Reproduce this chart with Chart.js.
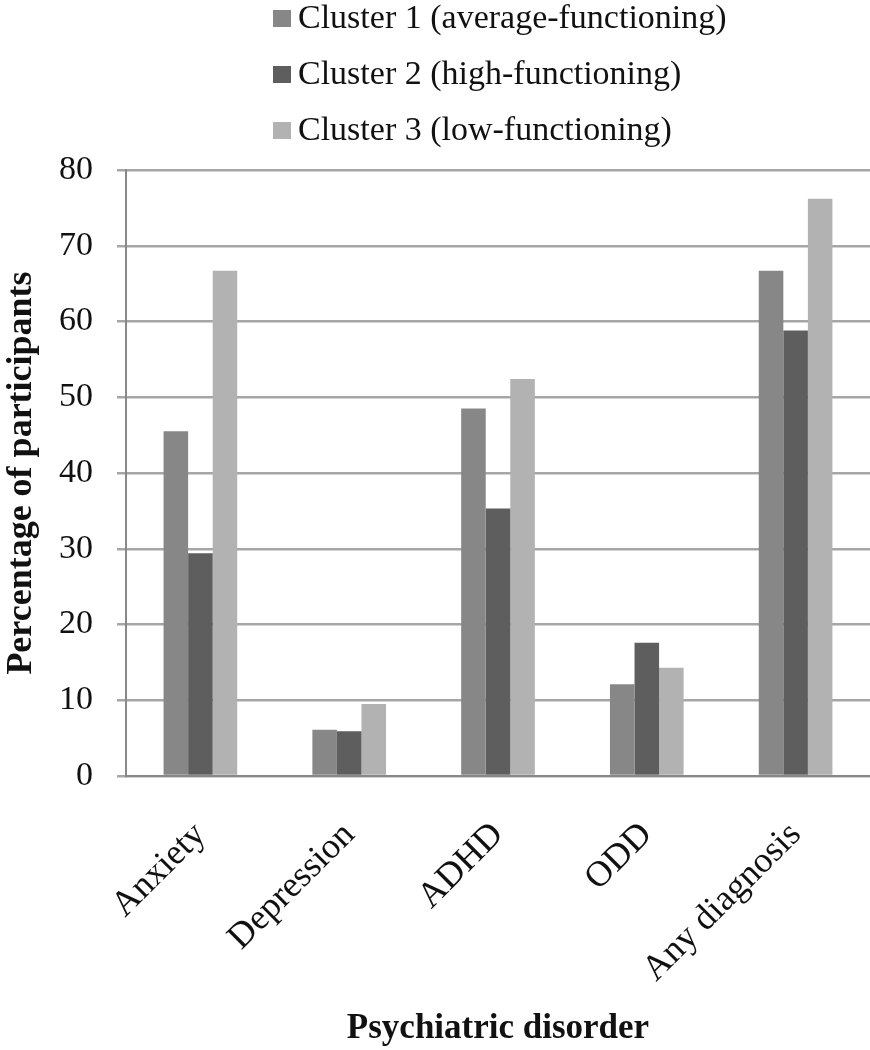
<!DOCTYPE html>
<html>
<head>
<meta charset="utf-8">
<script src="https://cdn.jsdelivr.net/npm/chart.js@4"></script>
<style>
  html, body { margin: 0; padding: 0; background: #fff; overflow: hidden; }
  #wrap { position: relative; width: 870px; height: 1050px; }
  #legend { position: absolute; left: 273px; top: -11px; font-family: "Liberation Serif", serif; font-size: 34px; color: #111; }
  #legend div { height: 56px; line-height: 56px; white-space: nowrap; }
  #legend span.box { display: inline-block; width: 18px; height: 17px; margin-right: 7px; vertical-align: 1px; }
  canvas { position: absolute; left: 0; top: 0; }
</style>
</head>
<body>
<div id="wrap">
  <canvas id="id-chartDisorders" width="870" height="1050"></canvas>
  <div id="legend"></div>
</div>
<script>
var categories = ["Anxiety", "Depression", "ADHD", "ODD", "Any diagnosis"];
var seriesNames = ["Cluster 1 (average-functioning)", "Cluster 2 (high-functioning)", "Cluster 3 (low-functioning)"];
var cluster1 = [45.5, 6.1, 48.5, 12.1, 66.7];
var cluster2 = [29.4, 5.9, 35.3, 17.6, 58.8];
var cluster3 = [66.7, 9.5, 52.4, 14.3, 76.2];
var seriesColors = ["#878787", "#5e5e5e", "#b2b2b2"];
var yTicks = [0, 10, 20, 30, 40, 50, 60, 70, 80];

var serif = "'Liberation Serif', 'Times New Roman', serif";
var values = [cluster1, cluster2, cluster3];

// ----------------------------- legend -----------------------------
var legendEl = document.getElementById("legend");
seriesNames.forEach(function(name, i) {
  var row = document.createElement("div");
  row.innerHTML = '<span class="box" style="background:' + seriesColors[i] + '"></span>' + name;
  legendEl.appendChild(row);
});

// ----------------------------- chart -----------------------------
Chart.defaults.font.family = serif;
Chart.defaults.color = "#111";

new Chart("id-chartDisorders", {
  type: "bar",
  data: {
    labels: categories,
    datasets: seriesNames.map(function(name, i) {
      return {
        label: name,
        data: values[i],
        backgroundColor: seriesColors[i],
        barPercentage: 1.0,
        categoryPercentage: 0.495
      };
    })
  },
  options: {
    responsive: false,
    animation: false,
    layout: {padding: {top: 170, right: 0, left: 0, bottom: 0}},
    plugins: {
      legend: {display: false},
      tooltip: {enabled: false}
    },
    scales: {
      x: {
        afterFit: function(axis) { axis.height = 274; },
        grid: {display: false},
        border: {display: true, color: "#888888", width: 2},
        ticks: {
          font: {size: 36},
          minRotation: 45,
          maxRotation: 45,
          padding: 30,
          color: "#111"
        },
        title: {
          display: true,
          text: "Psychiatric disorder",
          font: {size: 35, weight: "bold"},
          padding: {top: 0, bottom: 0},
          color: "#111"
        }
      },
      y: {
        min: 0,
        max: 80,
        afterBuildTicks: function(axis) {
          axis.ticks = yTicks.map(function(v) { return {value: v}; });
        },
        afterFit: function(axis) { axis.width = 126; },
        grid: {color: "#a6a6a6", lineWidth: 2.5, tickLength: 9, drawTicks: true},
        border: {display: true, color: "#888888", width: 2},
        ticks: {font: {size: 34}, padding: 24, color: "#111"},
        title: {
          display: true,
          text: "Percentage of participants",
          font: {size: 36, weight: "bold"},
          padding: {top: 0, bottom: 0},
          color: "#111"
        }
      }
    }
  }
});
</script>
</body>
</html>
